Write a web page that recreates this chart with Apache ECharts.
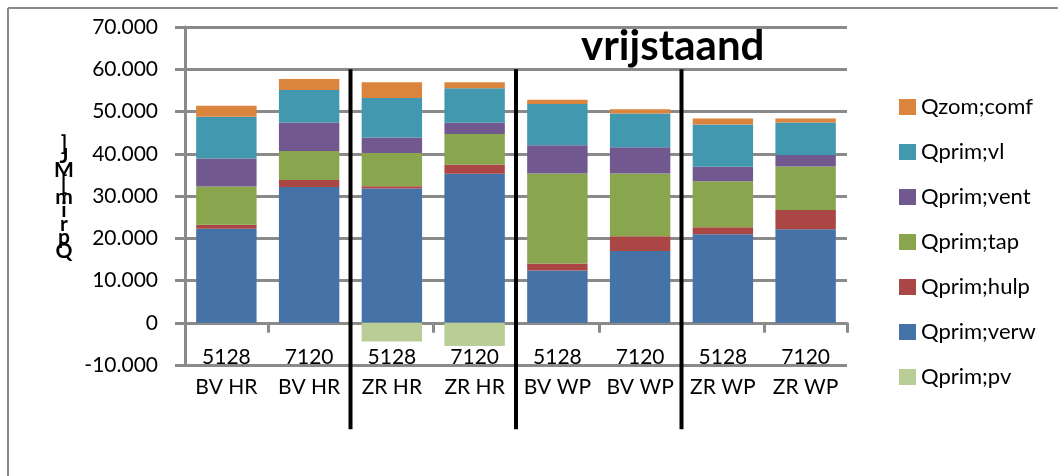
<!DOCTYPE html>
<html>
<head>
<meta charset="utf-8">
<script src="https://cdn.jsdelivr.net/npm/echarts@6/dist/echarts.min.js"></script>
<style>
html,body{margin:0;padding:0;background:#fff;}
#main{width:1058px;height:476px;}
</style>
</head>
<body>
<div id="main"></div>
<script>
// ---- data ----
const codes  = ['5128','7120','5128','7120','5128','7120','5128','7120'];
const groups = ['BV HR','BV HR','ZR HR','ZR HR','BV WP','BV WP','ZR WP','ZR WP'];
const qVerw = [22240, 32140, 31760, 35240, 12380, 17000, 20950, 22140];
const qHulp = [  950,  1670,   550,  2240,  1670,  3480,  1670,  4530];
const qTap  = [ 9050,  6830,  7860,  7210, 21280, 14850, 10880, 10330];
const qVent = [ 6660,  6740,  3650,  2620,  6670,  6190,  3410,  2690];
const qVl   = [ 9840,  7710,  9370,  8170,  9760,  7990, 10000,  7690];
const qComf = [ 2620,  2620,  3720,  1430,  1030,  1040,  1430,   960];
const qPv   = [ null,  null, -4430, -5480,  null,  null,  null,  null];
const yTicks = {min: -10000, max: 70000, step: 10000};
const separatorsAfter = [1, 3, 5]; // vertical group dividers after these category indices
const titleText = 'vrijstaand';
const yName = 'Qprim [MJ]';

const FONT = 'Lato';
const categories = codes.map((c, i) => c + '\n' + groups[i]);
const seriesDefs = [
  {name: 'Qprim;verw', data: qVerw, color: '#4572A7'},
  {name: 'Qprim;hulp', data: qHulp, color: '#AA4643'},
  {name: 'Qprim;tap',  data: qTap,  color: '#89A54E'},
  {name: 'Qprim;vent', data: qVent, color: '#71588F'},
  {name: 'Qprim;vl',   data: qVl,   color: '#4198AF'},
  {name: 'Qzom;comf',  data: qComf, color: '#DB843D'},
  {name: 'Qprim;pv',   data: qPv,   color: '#B9CD96'}
];
const legendOrder = ['Qzom;comf','Qprim;vl','Qprim;vent','Qprim;tap','Qprim;hulp','Qprim;verw','Qprim;pv'];

function fmt(v) {
  const s = Math.abs(v).toString().replace(/\B(?=(\d{3})+(?!\d))/g, '.');
  return (v < 0 ? '-' : '') + s;
}

const chart = echarts.init(document.getElementById('main'), null, {renderer: 'canvas'});
const GRID = '#8a8a8a';
chart.setOption({
  animation: false,
  backgroundColor: '#fff',
  textStyle: {fontFamily: FONT},
  grid: {left: 185, right: 211, top: 27, bottom: 111, containLabel: false},
  legend: {
    orient: 'vertical', left: 899, top: 96, padding: 0,
    itemWidth: 17, itemHeight: 16, itemGap: 23,
    icon: 'rect',
    data: legendOrder,
    textStyle: {fontFamily: FONT, fontSize: 22, color: '#000', padding: [0,0,0,0]}
  },
  xAxis: {
    type: 'category', data: categories,
    axisLine: {onZero: true, lineStyle: {color: GRID, width: 3}},
    axisTick: {show: true, length: 10, lineStyle: {color: GRID, width: 3}},
    axisLabel: {color: '#000', fontFamily: FONT, fontSize: 21, lineHeight: 30, margin: -23, interval: 0}
  },
  yAxis: {
    type: 'value', min: yTicks.min, max: yTicks.max, interval: yTicks.step,
    axisLine: {show: true, lineStyle: {color: GRID, width: 3}},
    axisTick: {show: true, length: 10, lineStyle: {color: GRID, width: 3}},
    axisLabel: {color: '#000', fontFamily: FONT, fontSize: 21, margin: 27, formatter: fmt},
    splitLine: {show: true, lineStyle: {color: GRID, width: 3}}
  },
  series: seriesDefs.map(s => ({
    name: s.name, type: 'bar', stack: 'total', data: s.data,
    barCategoryGap: '27%',
    itemStyle: {color: s.color},
    emphasis: {disabled: true}
  }))
});

// annotations: border, title, y-axis name, group dividers
const divs = separatorsAfter.map(i => {
  const a = chart.convertToPixel({xAxisIndex: 0}, i);
  const b = chart.convertToPixel({xAxisIndex: 0}, i + 1);
  const x = (a + b) / 2;
  const y1 = chart.convertToPixel({yAxisIndex: 0}, 60000);
  const y2 = chart.convertToPixel({yAxisIndex: 0}, -25200);
  return {type: 'line', shape: {x1: x, y1: y1, x2: x, y2: y2}, style: {stroke: '#000', lineWidth: 4}, z: 100};
});
const yLetters = yName.replace(' ', '').split('').reverse().join('\n');
chart.setOption({
  graphic: [
    {type: 'line', shape: {x1: 8, y1: 8, x2: 1058, y2: 8}, style: {stroke: GRID, lineWidth: 2}, z: 50},
    {type: 'line', shape: {x1: 8, y1: 8, x2: 8, y2: 476}, style: {stroke: GRID, lineWidth: 2}, z: 50},
    {type: 'text', x: 581, y: 25, style: {text: titleText, font: 'bold 42px ' + FONT, fill: '#000'}, z: 100},
    {type: 'text', x: 64, y: 136, style: {text: yLetters, font: 'bold 21px ' + FONT, fill: '#000', align: 'center', lineHeight: 13.5}, z: 100}
  ].concat(divs)
});
</script>
</body>
</html>
